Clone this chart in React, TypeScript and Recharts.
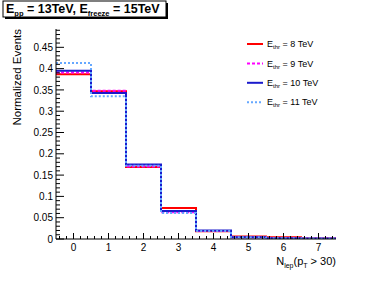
import React from 'react';
import { LineChart, Line, XAxis, YAxis } from 'recharts';

/* -------------------------------------------------------
   DATA  (bin contents, one histogram per threshold)
-------------------------------------------------------- */
const binCenters = [0, 1, 2, 3, 4, 5, 6, 7];
const ethr8 = [0.387, 0.347, 0.169, 0.073, 0.018, 0.006, 0.004, 0.001];
const ethr9 = [0.391, 0.348, 0.170, 0.063, 0.019, 0.004, 0.0015, 0.001];
const ethr10 = [0.395, 0.343, 0.175, 0.066, 0.020, 0.004, 0.0015, 0.001];
const ethr11 = [0.413, 0.335, 0.172, 0.061, 0.019, 0.004, 0.0015, 0.001];

const seriesNames = ['8', '9', '10', '11'];
const seriesColors = ['#ff0000', '#ff00ff', '#1a1acc', '#66a8ff'];
const seriesDash = ['', '3 2', '', '2 2'];

const xMajorLabels = ['0', '1', '2', '3', '4', '5', '6', '7'];

const FONT = '"Liberation Sans", Arial, Helvetica, sans-serif';
const Y_MAX = 0.493;

// step data: one row per bin low edge, plus a closing edge
const histData = binCenters.map((c, i) => ({
  x: c - 0.5,
  s0: ethr8[i],
  s1: ethr9[i],
  s2: ethr10[i],
  s3: ethr11[i],
}));
histData.push({
  x: binCenters[binCenters.length - 1] + 0.5,
  s0: ethr8[ethr8.length - 1],
  s1: ethr9[ethr9.length - 1],
  s2: ethr10[ethr10.length - 1],
  s3: ethr11[ethr11.length - 1],
});

// tick positions (minor every 0.01 on y, every 0.2 on x)
const yTicks: number[] = [];
for (let i = 0; i <= 49; i++) yTicks.push(i / 100);
const xTicks: number[] = [];
for (let i = -2; i <= 37; i++) xTicks.push(i / 5);

const isYMajor = (v: number) => Math.round(v * 100) % 5 === 0;
const isXMajor = (v: number) => Math.abs(v - Math.round(v)) < 1e-6;

/* -------------------------------------------------------
   TICKS  (ROOT style: inward, on all four sides)
-------------------------------------------------------- */
const LeftTick = ({ x, y, payload }: any) => {
  const v = payload.value;
  const major = isYMajor(v);
  return (
    <g>
      <line x1={x} x2={x + (major ? 8 : 4)} y1={y} y2={y} stroke="#000" strokeWidth={1} />
      {major && (
        <text x={x - 3} y={y + 3.6} textAnchor="end" fontSize={10} fontFamily={FONT} fill="#000">
          {String(Math.round(v * 100) / 100)}
        </text>
      )}
    </g>
  );
};

const RightTick = ({ x, y, payload }: any) => {
  const major = isYMajor(payload.value);
  return <line x1={x} x2={x - (major ? 8 : 4)} y1={y} y2={y} stroke="#000" strokeWidth={1} />;
};

const BottomTick = ({ x, y, payload }: any) => {
  const v = payload.value;
  const major = isXMajor(v);
  return (
    <g>
      <line x1={x} x2={x} y1={y} y2={y - (major ? 6 : 3)} stroke="#000" strokeWidth={1} />
      {major && (
        <text x={x} y={y + 11.5} textAnchor="middle" fontSize={10} fontFamily={FONT} fill="#000">
          {xMajorLabels[Math.round(v)]}
        </text>
      )}
    </g>
  );
};

const TopTick = ({ x, y, payload }: any) => {
  const major = isXMajor(payload.value);
  return <line x1={x} x2={x} y1={y} y2={y + (major ? 6 : 3)} stroke="#000" strokeWidth={1} />;
};

/* -------------------------------------------------------
   COMPONENT
-------------------------------------------------------- */
export default function App() {
  return (
    <div style={{ position: 'fixed', left: 0, top: 0, width: 374, height: 282, background: '#fff' }}>
      <LineChart
        width={374}
        height={282}
        data={histData}
        margin={{ top: 29, right: 38, bottom: 0, left: 0 }}
      >
        <XAxis
          dataKey="x"
          type="number"
          domain={[-0.5, 7.5]}
          allowDataOverflow
          ticks={xTicks}
          interval={0}
          tickSize={0}
          tickMargin={0}
          tickLine={false}
          height={43}
          axisLine={{ stroke: '#000' }}
          tick={<BottomTick />}
        />
        <XAxis
          xAxisId="top"
          orientation="top"
          dataKey="x"
          type="number"
          domain={[-0.5, 7.5]}
          allowDataOverflow
          ticks={xTicks}
          interval={0}
          tickSize={0}
          tickMargin={0}
          tickLine={false}
          height={0}
          axisLine={{ stroke: '#000' }}
          tick={<TopTick />}
        />
        <YAxis
          type="number"
          domain={[0, Y_MAX]}
          allowDataOverflow
          ticks={yTicks}
          interval={0}
          tickSize={0}
          tickMargin={0}
          tickLine={false}
          width={56}
          axisLine={{ stroke: '#000' }}
          tick={<LeftTick />}
        />
        <YAxis
          yAxisId="right"
          orientation="right"
          type="number"
          domain={[0, Y_MAX]}
          allowDataOverflow
          ticks={yTicks}
          interval={0}
          tickSize={0}
          tickMargin={0}
          tickLine={false}
          width={0}
          axisLine={{ stroke: '#000' }}
          tick={<RightTick />}
        />
        {seriesNames.map((name, i) => (
          <Line
            key={name}
            type="stepAfter"
            dataKey={`s${i}`}
            stroke={seriesColors[i]}
            strokeWidth={2}
            strokeDasharray={seriesDash[i] || undefined}
            dot={false}
            activeDot={false}
            isAnimationActive={false}
          />
        ))}
      </LineChart>

      {/* titles, legend and label box */}
      <svg
        width={374}
        height={282}
        style={{ position: 'absolute', left: 0, top: 0, pointerEvents: 'none' }}
        fontFamily={FONT}
      >
        <rect x={5} y={3} width={163} height={16} fill="#000" />
        <rect x={3} y={1} width={163} height={16} fill="#fff" stroke="#000" strokeWidth={1} />
        <text x={6} y={13} fontSize={12.5} fontWeight="bold" fill="#000">
          E<tspan fontSize={7.5} dy={3}>pp</tspan>
          <tspan dy={-3}> = 13TeV, E</tspan>
          <tspan fontSize={7.5} dy={3}>freeze</tspan>
          <tspan dy={-3}> = 15TeV</tspan>
        </text>

        <text
          transform="translate(21,29) rotate(-90)"
          textAnchor="end"
          fontSize={11.5}
          fill="#000"
        >
          Normalized Events
        </text>

        <text x={336} y={265} textAnchor="end" fontSize={11} fill="#000">
          N<tspan fontSize={7} dy={2.5}>lep</tspan>
          <tspan dy={-2.5}>(p</tspan>
          <tspan fontSize={7} dy={2.5}>T</tspan>
          <tspan dy={-2.5}> &gt; 30)</tspan>
        </text>

        {seriesNames.map((name, i) => {
          const y = 44 + i * 19.4;
          return (
            <g key={name}>
              <line
                x1={247}
                x2={263}
                y1={y}
                y2={y}
                stroke={seriesColors[i]}
                strokeWidth={2}
                strokeDasharray={seriesDash[i] || undefined}
              />
              <text x={267} y={y + 3.2} fontSize={9} fill="#000">
                E<tspan fontSize={6} dy={2}>thr</tspan>
                <tspan dy={-2}> = {name} TeV</tspan>
              </text>
            </g>
          );
        })}
      </svg>
    </div>
  );
}
